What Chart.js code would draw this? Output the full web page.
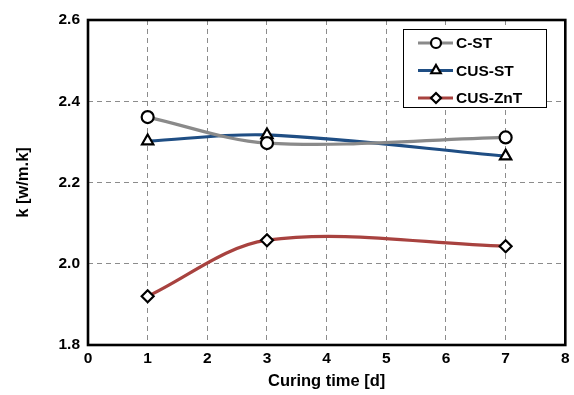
<!DOCTYPE html>
<html>
<head>
<meta charset="utf-8">
<script src="https://cdn.jsdelivr.net/npm/chart.js@4.4.0/dist/chart.umd.min.js"></script>
<style>
  html, body { margin: 0; padding: 0; background: #fff; }
  #wrap { width: 574px; height: 395px; }
</style>
</head>
<body>
<div id="wrap"><canvas id="ch"></canvas></div>
<script>
const days = [1, 3, 7];
const cST = [2.361, 2.297, 2.311];
const cusST = [2.302, 2.317, 2.265];
const cusZnT = [1.920, 2.058, 2.043];
const yTicks = [1.8, 2.0, 2.2, 2.4, 2.6];

const font = { family: 'Arial, "Liberation Sans", sans-serif', weight: 'bold' };

function pts(vals) {
  return days.map((d, i) => ({ x: d, y: vals[i] }));
}

function series(label, vals, color, marker, r) {
  return {
    label: label,
    data: pts(vals),
    borderColor: color,
    borderWidth: 3.2,
    tension: 0.33,
    pointStyle: marker,
    pointRadius: r,
    pointBackgroundColor: '#fff',
    pointBorderColor: '#000',
    pointBorderWidth: 2.2
  };
}

// legend box inside the plot, like the reference
const boxLegend = {
  id: 'boxLegend',
  afterDatasetsDraw(chart) {
    const ctx = chart.ctx;
    const x0 = 403, y0 = 29, w = 143, h = 78;
    ctx.save();
    ctx.fillStyle = '#fff';
    ctx.fillRect(x0, y0, w, h);
    ctx.strokeStyle = '#000';
    ctx.lineWidth = 1;
    ctx.strokeRect(x0 + 0.5, y0 + 0.5, w, h);
    chart.data.datasets.forEach((ds, i) => {
      const y = y0 + 14 + i * 27.5;
      ctx.strokeStyle = ds.borderColor;
      ctx.lineWidth = 3.2;
      ctx.beginPath();
      ctx.moveTo(418, y);
      ctx.lineTo(453, y);
      ctx.stroke();
      ctx.fillStyle = '#fff';
      ctx.strokeStyle = '#000';
      ctx.lineWidth = 2.2;
      Chart.helpers.drawPoint(ctx, {
        pointStyle: ds.pointStyle, radius: ds.pointRadius - 1, borderWidth: 2.2
      }, 436, y);
      ctx.fillStyle = '#000';
      ctx.font = 'bold 15.5px Arial, "Liberation Sans", sans-serif';
      ctx.textBaseline = 'middle';
      ctx.textAlign = 'left';
      ctx.fillText(ds.label, 456, y + 1);
    });
    ctx.restore();
  },
  afterDraw(chart) {
    const a = chart.chartArea;
    const ctx = chart.ctx;
    ctx.save();
    ctx.strokeStyle = '#000';
    ctx.lineWidth = 2.6;
    ctx.strokeRect(a.left, a.top, a.right - a.left, a.bottom - a.top);
    ctx.restore();
  }
};

new Chart(document.getElementById('ch'), {
  type: 'line',
  data: {
    datasets: [
      series('C-ST', cST, '#8a8a8a', 'circle', 6),
      series('CUS-ST', cusST, '#1f4e84', 'triangle', 6.5),
      series('CUS-ZnT', cusZnT, '#a8423f', 'rectRot', 6)
    ]
  },
  options: {
    responsive: true,
    maintainAspectRatio: false,
    animation: { duration: 0 },
    events: [],
    layout: { padding: { top: 20, right: 7, left: 10, bottom: 0 } },
    plugins: { legend: { display: false }, tooltip: { enabled: false } },
    scales: {
      x: {
        type: 'linear',
        min: 0, max: 8,
        ticks: { stepSize: 1, color: '#000', font: { ...font, size: 15.5 }, padding: 4 },
        grid: { color: '#8c8c8c', lineWidth: 1, drawTicks: false },
        border: { display: false, dash: [5, 4] },
        title: { display: true, text: 'Curing time [d]', color: '#000', font: { ...font, size: 16.5 }, padding: { top: 5 } },
        afterFit(s) { s.height = 50; }
      },
      y: {
        min: 1.8, max: 2.6,
        afterBuildTicks(s) { s.ticks = yTicks.map(v => ({ value: v })); },
        ticks: {
          color: '#000', font: { ...font, size: 15.5 }, padding: 8,
          callback: v => v.toFixed(1)
        },
        grid: { color: '#8c8c8c', lineWidth: 1, drawTicks: false },
        border: { display: false, dash: [5, 4] },
        title: { display: true, text: 'k [w/m.k]', color: '#000', font: { ...font, size: 16.5 }, padding: { bottom: 6 } },
        afterFit(s) { s.width = 78; }
      }
    }
  },
  plugins: [boxLegend]
});
</script>
</body>
</html>
